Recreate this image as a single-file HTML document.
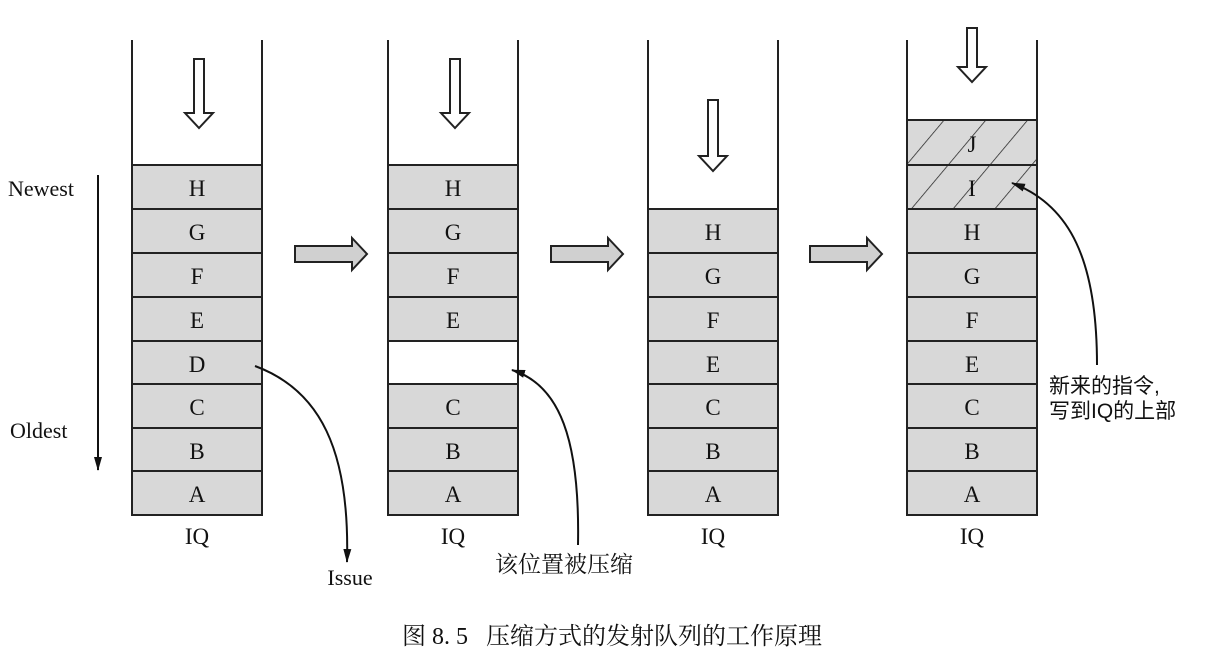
<!DOCTYPE html>
<html><head><meta charset="utf-8"><style>
html,body{margin:0;padding:0;background:#fff;}
svg{display:block}
text{font-family:"Liberation Serif","Noto Serif CJK SC",serif;fill:#111}
.c{font-family:"Liberation Sans","Noto Sans CJK SC",sans-serif}
</style></head><body>
<svg width="1227" height="667" viewBox="0 0 1227 667" xmlns="http://www.w3.org/2000/svg">
<defs>
<pattern id="h" width="32" height="32" patternUnits="userSpaceOnUse" patternTransform="rotate(40)">
<rect width="32" height="32" fill="#d9d9d9"/><line x1="0" y1="0" x2="0" y2="32" stroke="#222" stroke-width="1.5"/>
</pattern>
<marker id="ah2" markerWidth="14" markerHeight="10" refX="13" refY="5" orient="auto" markerUnits="userSpaceOnUse"><path d="M0,1 L14,5 L0,9 Z" fill="#111"/></marker>
</defs>
<g stroke="#222" stroke-width="2" fill="#d8d8d8">
<rect x="132" y="165" width="130" height="350"/>
<line x1="132" y1="209" x2="262" y2="209"/><line x1="132" y1="253" x2="262" y2="253"/><line x1="132" y1="297" x2="262" y2="297"/><line x1="132" y1="341" x2="262" y2="341"/><line x1="132" y1="384" x2="262" y2="384"/><line x1="132" y1="428" x2="262" y2="428"/><line x1="132" y1="471" x2="262" y2="471"/>
<line x1="132" y1="40" x2="132" y2="515"/><line x1="262" y1="40" x2="262" y2="515"/>
<rect x="388" y="165" width="130" height="350"/>
<rect x="388" y="341" width="130" height="43" fill="#fff"/>
<line x1="388" y1="209" x2="518" y2="209"/><line x1="388" y1="253" x2="518" y2="253"/><line x1="388" y1="297" x2="518" y2="297"/><line x1="388" y1="428" x2="518" y2="428"/><line x1="388" y1="471" x2="518" y2="471"/>
<line x1="388" y1="40" x2="388" y2="515"/><line x1="518" y1="40" x2="518" y2="515"/>
<rect x="648" y="209" width="130" height="306"/>
<line x1="648" y1="253" x2="778" y2="253"/><line x1="648" y1="297" x2="778" y2="297"/><line x1="648" y1="341" x2="778" y2="341"/><line x1="648" y1="384" x2="778" y2="384"/><line x1="648" y1="428" x2="778" y2="428"/><line x1="648" y1="471" x2="778" y2="471"/>
<line x1="648" y1="40" x2="648" y2="515"/><line x1="778" y1="40" x2="778" y2="515"/>
<rect x="907" y="120" width="130" height="89" fill="url(#h)"/>
<rect x="907" y="209" width="130" height="306"/>
<line x1="907" y1="165" x2="1037" y2="165"/><line x1="907" y1="253" x2="1037" y2="253"/><line x1="907" y1="297" x2="1037" y2="297"/><line x1="907" y1="341" x2="1037" y2="341"/><line x1="907" y1="384" x2="1037" y2="384"/><line x1="907" y1="428" x2="1037" y2="428"/><line x1="907" y1="471" x2="1037" y2="471"/>
<line x1="907" y1="40" x2="907" y2="515"/><line x1="1037" y1="40" x2="1037" y2="515"/>
</g>
<g stroke="#222" stroke-width="2" fill="#fff">
<path d="M194,59 H204 V113 H213 L199,128 L185,113 H194 Z"/>
<path d="M450,59 H460 V113 H469 L455,128 L441,113 H450 Z"/>
<path d="M708,100 H718 V156 H727 L713,171 L699,156 H708 Z"/>
<path d="M967,28 H977 V67 H986 L972,82 L958,67 H967 Z"/>
</g>
<g stroke="#222" stroke-width="2" fill="#d0d0d0">
<path d="M295,246 H352 V238 L367,254 L352,270 V262 H295 Z"/>
<path d="M551,246 H608 V238 L623,254 L608,270 V262 H551 Z"/>
<path d="M810,246 H867 V238 L882,254 L867,270 V262 H810 Z"/>
</g>
<g font-size="23" text-anchor="middle">
<text x="197" y="196">H</text><text x="197" y="240">G</text><text x="197" y="284">F</text><text x="197" y="328">E</text><text x="197" y="372">D</text><text x="197" y="415">C</text><text x="197" y="459">B</text><text x="197" y="502">A</text>
<text x="453" y="196">H</text><text x="453" y="240">G</text><text x="453" y="284">F</text><text x="453" y="328">E</text><text x="453" y="415">C</text><text x="453" y="459">B</text><text x="453" y="502">A</text>
<text x="713" y="240">H</text><text x="713" y="284">G</text><text x="713" y="328">F</text><text x="713" y="372">E</text><text x="713" y="415">C</text><text x="713" y="459">B</text><text x="713" y="502">A</text>
<text x="972" y="152">J</text><text x="972" y="196">I</text><text x="972" y="240">H</text><text x="972" y="284">G</text><text x="972" y="328">F</text><text x="972" y="372">E</text><text x="972" y="415">C</text><text x="972" y="459">B</text><text x="972" y="502">A</text>
<text x="197" y="544">IQ</text><text x="453" y="544">IQ</text><text x="713" y="544">IQ</text><text x="972" y="544">IQ</text>
</g>
<text x="8" y="196" font-size="22">Newest</text>
<text x="10" y="438" font-size="22">Oldest</text>
<line x1="98" y1="175" x2="98" y2="470" stroke="#111" stroke-width="2" marker-end="url(#ah2)"/>
<g fill="none" stroke="#111" stroke-width="2">
<path d="M255,366 C320,390 350,450 347,562" marker-end="url(#ah2)"/>
<path d="M578,545 C580,440 560,385 512,370" marker-end="url(#ah2)"/>
<path d="M1097,365 C1097,260 1070,205 1012,183" marker-end="url(#ah2)"/>
</g>
<text x="350" y="585" font-size="22" text-anchor="middle">Issue</text>
<text x="495" y="572" font-size="23">该位置被压缩</text>
<text class="c" x="1049" y="393" font-size="21">新来的指令,</text>
<text class="c" x="1049" y="418" font-size="21">写到IQ的上部</text>
<text x="612" y="644" font-size="24" text-anchor="middle" xml:space="preserve">图 8. 5   压缩方式的发射队列的工作原理</text>
</svg>
</body></html>
